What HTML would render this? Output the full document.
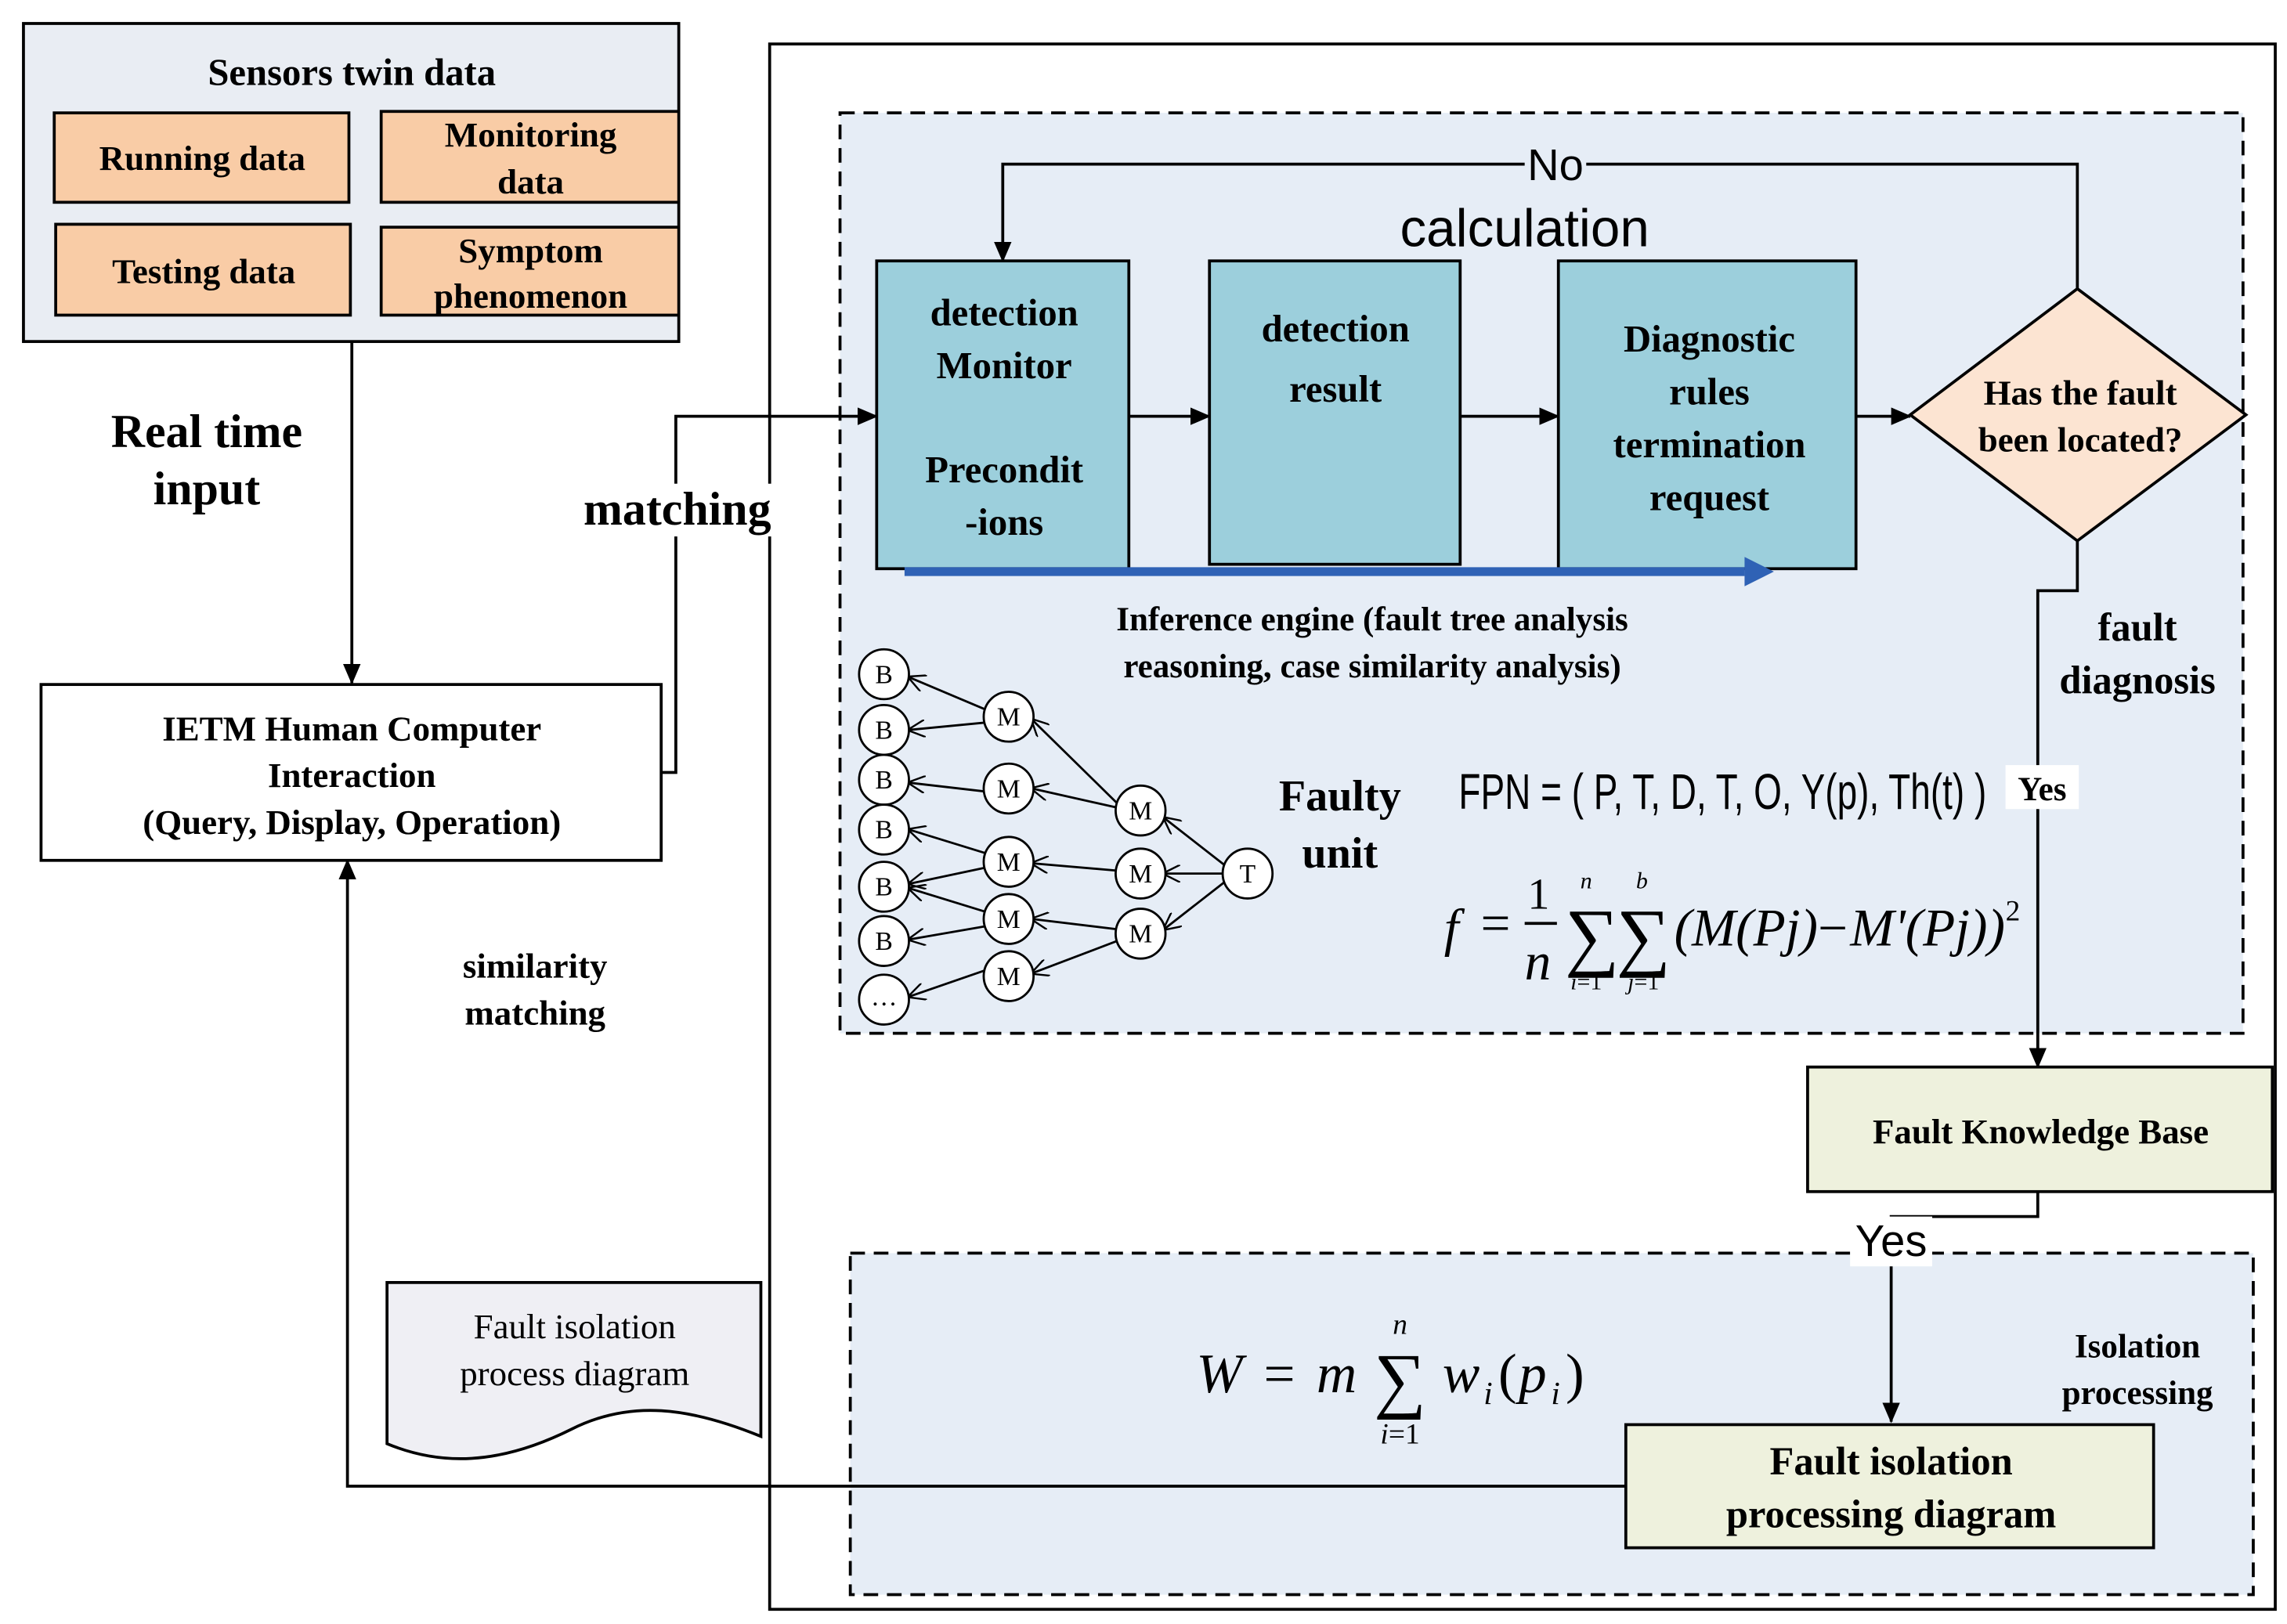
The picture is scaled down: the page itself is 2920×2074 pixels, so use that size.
<!DOCTYPE html>
<html><head><meta charset="utf-8"><style>html,body{margin:0;padding:0;background:#fff}svg{display:block}</style></head>
<body>
<svg width="2920" height="2074" viewBox="0 0 1560 1108" xmlns="http://www.w3.org/2000/svg" font-family="Liberation Serif, serif">
<defs>
<marker id="s" markerWidth="14" markerHeight="12" refX="13" refY="6" orient="auto" markerUnits="userSpaceOnUse"><path d="M0,0 L14,6 L0,12 Z" fill="#000"/></marker>
<marker id="o" markerWidth="12" markerHeight="12" refX="11" refY="6" orient="auto" markerUnits="userSpaceOnUse"><path d="M0,0 L12,6 L0,12" fill="none" stroke="#000" stroke-width="1.3"/></marker>
</defs>
<!-- Sensors -->
<rect x="16" y="16" width="447" height="217" fill="#e9edf3" stroke="#000" stroke-width="2"/>
<text x="240" y="58" font-size="26" font-weight="bold" text-anchor="middle">Sensors twin data</text>
<g fill="#f9cca6" stroke="#000" stroke-width="2">
<rect x="37" y="77" width="201" height="61"/><rect x="260" y="76" width="203" height="62"/>
<rect x="38" y="153" width="201" height="62"/><rect x="260" y="155" width="203" height="60"/></g>
<g font-size="24" font-weight="bold" text-anchor="middle">
<text x="138" y="116">Running data</text><text x="362" y="100">Monitoring</text><text x="362" y="132">data</text>
<text x="139" y="193">Testing data</text><text x="362" y="179">Symptom</text><text x="362" y="210">phenomenon</text></g>
<line x1="240" y1="233" x2="240" y2="466" stroke="#000" stroke-width="2" marker-end="url(#s)"/>
<g font-size="32" font-weight="bold" text-anchor="middle"><text x="141" y="305">Real time</text><text x="141" y="344">input</text></g>
<rect x="28" y="467" width="423" height="120" fill="#fff" stroke="#000" stroke-width="2"/>
<g font-size="24" font-weight="bold" text-anchor="middle"><text x="240" y="505">IETM Human Computer</text><text x="240" y="537">Interaction</text><text x="240" y="569">(Query, Display, Operation)</text>
<text x="365" y="667">similarity</text><text x="365" y="699">matching</text></g>
<!-- outer -->
<rect x="525" y="30" width="1027" height="1068" fill="#fff" stroke="#000" stroke-width="2"/>
<rect x="573" y="77" width="957" height="628" fill="#e6edf6" stroke="#000" stroke-width="2" stroke-dasharray="10,6"/>
<rect x="580" y="855" width="957" height="233" fill="#e6edf6" stroke="#000" stroke-width="2" stroke-dasharray="10,6"/>
<polyline points="451,527 461,527 461,284 598,284" fill="none" stroke="#000" stroke-width="2" marker-end="url(#s)"/>
<rect x="392" y="330" width="140" height="36" fill="#fff"/>
<text x="462" y="358" font-size="32" font-weight="bold" text-anchor="middle">matching</text>
<!-- process boxes -->
<g fill="#9ccfdc" stroke="#000" stroke-width="2">
<rect x="598" y="178" width="172" height="210"/><rect x="825" y="178" width="171" height="207"/><rect x="1063" y="178" width="203" height="210"/></g>
<g font-size="26" font-weight="bold" text-anchor="middle">
<text x="685" y="222">detection</text><text x="685" y="258">Monitor</text><text x="685" y="329">Precondit</text><text x="685" y="365">-ions</text>
<text x="911" y="233">detection</text><text x="911" y="274">result</text>
<text x="1166" y="240">Diagnostic</text><text x="1166" y="276">rules</text><text x="1166" y="312">termination</text><text x="1166" y="348">request</text></g>
<g stroke="#000" stroke-width="2" fill="none">
<line x1="770" y1="284" x2="825" y2="284" marker-end="url(#s)"/>
<line x1="996" y1="284" x2="1063" y2="284" marker-end="url(#s)"/>
<line x1="1266" y1="284" x2="1303" y2="284" marker-end="url(#s)"/>
<polyline points="1417,197 1417,112 684,112 684,178" marker-end="url(#s)"/>
<polyline points="1417,369 1417,403 1390,403 1390,728" marker-end="url(#s)"/>
<polyline points="1390,813 1390,830 1290,830 1290,970" marker-end="url(#s)"/>
<polyline points="1109,1014 237,1014 237,587" marker-end="url(#s)"/>
</g>
<polygon points="1303,283 1417,197 1532,283 1417,369" fill="#fce4d2" stroke="#000" stroke-width="2"/>
<g font-size="24" font-weight="bold" text-anchor="middle"><text x="1419" y="276">Has the fault</text><text x="1419" y="308">been located?</text></g>
<rect x="1040" y="96" width="42" height="32" fill="#e6edf6"/>
<text x="1061" y="123" font-size="30" font-family="Liberation Sans, sans-serif" text-anchor="middle">No</text>
<text x="1040" y="168" font-size="36" font-family="Liberation Sans, sans-serif" text-anchor="middle">calculation</text>
<line x1="617" y1="390" x2="1190" y2="390" stroke="#2f62b5" stroke-width="6"/>
<polygon points="1190,380 1210,390 1190,400" fill="#2f62b5"/>
<g font-size="23" font-weight="bold" text-anchor="middle"><text x="936" y="430">Inference engine (fault tree analysis</text><text x="936" y="462">reasoning, case similarity analysis)</text></g>
<g font-size="27" font-weight="bold" text-anchor="middle"><text x="1458" y="437">fault</text><text x="1458" y="473">diagnosis</text></g>
<rect x="1368" y="522" width="50" height="30" fill="#fff"/>
<text x="1393" y="546" font-size="23" font-weight="bold" text-anchor="middle">Yes</text>
<rect x="1233" y="728" width="317" height="85" fill="#eef1dd" stroke="#000" stroke-width="2"/>
<text x="1392" y="780" font-size="24" font-weight="bold" text-anchor="middle">Fault Knowledge Base</text>
<rect x="1262" y="830" width="56" height="34" fill="#fff"/>
<text x="1290" y="857" font-size="30" font-family="Liberation Sans, sans-serif" text-anchor="middle">Yes</text>
<rect x="1109" y="972" width="360" height="84" fill="#eef1dd" stroke="#000" stroke-width="2"/>
<g font-size="27" font-weight="bold" text-anchor="middle"><text x="1290" y="1006">Fault isolation</text><text x="1290" y="1042">processing diagram</text></g>
<g font-size="23" font-weight="bold" text-anchor="middle"><text x="1458" y="926">Isolation</text><text x="1458" y="958">processing</text></g>
<path d="M264,875 L519,875 L519,980 C470,960 430,955 390,975 C340,1000 300,1000 264,985 Z" fill="#efeff4" stroke="#000" stroke-width="2"/>
<g font-size="24" text-anchor="middle"><text x="392" y="913">Fault isolation</text><text x="392" y="945">process diagram</text></g>
<g font-style="italic" font-size="38"><text x="816" y="950">W</text><text x="862" y="950" font-style="normal">=</text><text x="898" y="950">m</text>
<text x="984" y="950">w</text><text x="1012" y="958" font-size="22">i</text><text x="1022" y="950" font-style="normal">(</text><text x="1036" y="950">p</text><text x="1058" y="958" font-size="22">i</text><text x="1068" y="950" font-style="normal">)</text></g>
<text x="955" y="958" font-size="50" text-anchor="middle">∑</text>
<text x="955" y="910" font-size="20" font-style="italic" text-anchor="middle">n</text>
<text x="955" y="985" font-size="20" text-anchor="middle"><tspan font-style="italic">i</tspan>=1</text>
<g font-size="30" font-weight="bold" text-anchor="middle"><text x="914" y="553">Faulty</text><text x="914" y="592">unit</text></g>
<text x="995" y="552" font-size="34" font-family="Liberation Sans, sans-serif" textLength="360" lengthAdjust="spacingAndGlyphs">FPN = ( P, T, D, T, O, Y(p), Th(t) )</text>
<g font-size="36" font-style="italic">
<text x="985" y="645">f</text><text x="1010" y="642" font-style="normal">=</text>
<text x="1042" y="620" font-style="normal" font-size="30">1</text><line x1="1040" y1="630" x2="1062" y2="630" stroke="#000" stroke-width="2"/><text x="1040" y="668">n</text>
<text x="1142" y="645">(M(Pj)</text><text x="1240" y="645" font-style="normal">−</text><text x="1262" y="645">M'(Pj))</text><text x="1368" y="628" font-size="20" font-style="normal">2</text></g>
<text x="1086" y="656" font-size="52" text-anchor="middle">∑</text><text x="1121" y="656" font-size="52" text-anchor="middle">∑</text>
<text x="1082" y="606" font-size="16" font-style="italic" text-anchor="middle">n</text><text x="1120" y="606" font-size="16" font-style="italic" text-anchor="middle">b</text>
<text x="1082" y="675" font-size="16" text-anchor="middle"><tspan font-style="italic">i</tspan>=1</text><text x="1121" y="675" font-size="16" text-anchor="middle"><tspan font-style="italic">j</tspan>=1</text>
<g stroke="#000" stroke-width="1.5" fill="none">
<line x1="672" y1="484" x2="620" y2="462" marker-end="url(#o)"/><line x1="672" y1="493" x2="620" y2="498" marker-end="url(#o)"/>
<line x1="672" y1="540" x2="620" y2="534" marker-end="url(#o)"/>
<line x1="672" y1="582" x2="620" y2="566" marker-end="url(#o)"/><line x1="672" y1="592" x2="620" y2="603" marker-end="url(#o)"/>
<line x1="672" y1="622" x2="620" y2="606" marker-end="url(#o)"/><line x1="672" y1="632" x2="620" y2="641" marker-end="url(#o)"/>
<line x1="672" y1="662" x2="620" y2="680" marker-end="url(#o)"/>
<line x1="762" y1="548" x2="704" y2="491" marker-end="url(#o)"/><line x1="762" y1="551" x2="704" y2="538" marker-end="url(#o)"/>
<line x1="762" y1="594" x2="704" y2="589" marker-end="url(#o)"/>
<line x1="762" y1="634" x2="704" y2="627" marker-end="url(#o)"/><line x1="762" y1="642" x2="704" y2="664" marker-end="url(#o)"/>
<line x1="835" y1="590" x2="794" y2="558" marker-end="url(#o)"/><line x1="835" y1="596" x2="794" y2="596" marker-end="url(#o)"/>
<line x1="835" y1="602" x2="794" y2="634" marker-end="url(#o)"/>
</g>
<g fill="#fff" stroke="#000" stroke-width="1.5">
<circle cx="603" cy="460" r="17"/><circle cx="603" cy="498" r="17"/><circle cx="603" cy="532" r="17"/><circle cx="603" cy="566" r="17"/><circle cx="603" cy="605" r="17"/><circle cx="603" cy="642" r="17"/><circle cx="603" cy="682" r="17"/>
<circle cx="688" cy="489" r="17"/><circle cx="688" cy="538" r="17"/><circle cx="688" cy="588" r="17"/><circle cx="688" cy="627" r="17"/><circle cx="688" cy="666" r="17"/>
<circle cx="778" cy="553" r="17"/><circle cx="778" cy="596" r="17"/><circle cx="778" cy="637" r="17"/><circle cx="851" cy="596" r="17"/></g>
<g font-size="18" text-anchor="middle">
<text x="603" y="466">B</text><text x="603" y="504">B</text><text x="603" y="538">B</text><text x="603" y="572">B</text><text x="603" y="611">B</text><text x="603" y="648">B</text><text x="603" y="686">…</text>
<text x="688" y="495">M</text><text x="688" y="544">M</text><text x="688" y="594">M</text><text x="688" y="633">M</text><text x="688" y="672">M</text>
<text x="778" y="559">M</text><text x="778" y="602">M</text><text x="778" y="643">M</text><text x="851" y="602">T</text></g>
</svg>
</body></html>
